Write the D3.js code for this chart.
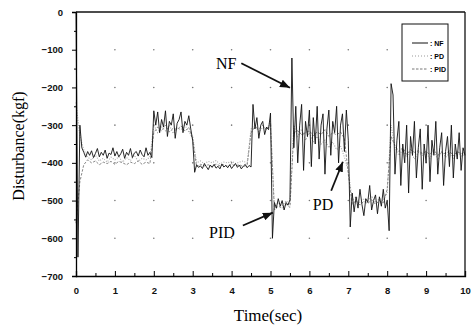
<!DOCTYPE html>
<html>
<head>
<meta charset="utf-8">
<script src="https://cdn.jsdelivr.net/npm/d3@7/dist/d3.min.js"></script>
<style>
  body { margin: 0; background: #fff; }
  .tick text { font-family: 'Liberation Sans', Arial, sans-serif; font-weight: bold; font-size: 9.5px; fill: #111; }
</style>
</head>
<body>
<svg id="chart" width="474" height="326"></svg>
<script>
// sample steps (sec)
const nfStep = 0.05;
const pdStep = 0.1;

// NF : one row = 0.5 sec
const nfValues = [
  0, -650, -300, -360, -372, -385, -370, -380, -368, -386,
  -375, -362, -384, -372, -380, -366, -388, -374, -378, -360,
  -382, -370, -384, -376, -364, -388, -372, -380, -362, -386,
  -374, -370, -382, -366, -378, -384, -360, -380, -372, -386,
  -262, -300, -265, -320, -285, -305, -262, -330, -290, -300,
  -270, -335, -295, -285, -265, -320, -290, -300, -275, -310,
  -340, -425, -405, -412, -408, -415, -402, -410, -418, -406,
  -412, -404, -414, -409, -416, -403, -411, -407, -413, -405,
  -415, -408, -402, -412, -406, -416, -409, -404, -413, -407,
  -411, -245, -310, -280, -335, -300, -290, -325, -305, -312,
  -268, -600, -505, -520, -495, -515, -500, -525, -505, -512,
  -498, -122, -360, -250, -400, -300, -245, -420, -290, -330,
  -260, -410, -280, -350, -250, -390, -300, -270, -430, -310,
  -260, -380, -290, -320, -250, -400, -300, -270, -370, -260,
  -340, -570, -480, -530, -490, -520, -470, -510, -540, -495,
  -505, -460, -525, -500, -485, -535, -490, -515, -470, -520,
  -500, -580, -190, -220, -430, -340, -290, -460, -350, -400,
  -300, -480, -330, -380, -290, -440, -360, -310, -470, -350,
  -400, -300, -450, -340, -380, -290, -430, -360, -320, -460,
  -370, -330, -410, -300, -440, -350, -390, -320, -420, -360,
  -380
];

// PD : one row = 1 sec
const pdValues = [
  -240, -330, -365, -385, -392, -380, -395, -388, -398, -385,
  -392, -384, -398, -386, -394, -380, -396, -388, -392, -385,
  -300, -320, -305, -315, -300, -322, -308, -312, -300, -318,
  -330, -400, -395, -402, -396, -400, -394, -403, -398, -400,
  -396, -402, -398, -395, -401, -310, -300, -318, -306, -312,
  -290, -520, -505, -515, -500, -510, -300, -330, -310, -340,
  -320, -345, -330, -350, -340, -360, -345, -365, -355, -385,
  -420, -500, -490, -505, -495, -500, -488, -505, -495, -500,
  -480, -300, -360, -380, -365, -385, -370, -390, -372, -380,
  -375, -388, -365, -392, -370, -385, -375, -390, -368, -382,
  -378
];

// PID : one row = 1 sec
const pidValues = [
  -560, -450, -405, -392, -400, -395, -405, -398, -402, -396,
  -404, -396, -400, -405, -398, -402, -395, -404, -398, -402,
  -320, -305, -315, -300, -318, -308, -312, -302, -316, -306,
  -340, -410, -404, -408, -405, -410, -403, -408, -405, -409,
  -404, -408, -405, -410, -406, -320, -305, -310, -300, -312,
  -300, -525, -515, -520, -510, -518, -320, -315, -325, -320,
  -315, -328, -318, -325, -312, -330, -320, -326, -318, -335,
  -430, -510, -500, -512, -502, -508, -498, -510, -500, -506,
  -470, -330, -355, -370, -360, -378, -365, -372, -368, -375,
  -370, -378, -365, -380, -372, -376, -368, -382, -370, -376,
  -372
];

const xTicks = d3.range(0, 11);
const yTicks = [0, -100, -200, -300, -400, -500, -600, -700];
const legendLabels = [': NF', ': PD', ': PID'];

// annotations in data units: text at [t, v], arrow from tail to tip
const noteLabels = ['NF', 'PID', 'PD'];
const noteText = [[3.86, -135], [3.75, -585], [6.35, -510]];
const noteTail = [[4.25, -136], [4.29, -566], [6.56, -474]];
const noteTip = [[5.50, -201], [5.06, -532], [6.86, -397]];

const margin = { top: 12, right: 9, bottom: 50, left: 76 },
  width = 474 - margin.left - margin.right,
  height = 326 - margin.top - margin.bottom;

const svg = d3.select('#chart');
const g = svg.append('g').attr('transform', 'translate(' + margin.left + ',' + margin.top + ')');

const x = d3.scaleLinear().domain([0, 10]).range([0, width]);
const y = d3.scaleLinear().domain([-700, 0]).range([height, 0]);

// faint dots at grid crossings
const crossings = [];
xTicks.slice(1, -1).forEach(function (t) {
  yTicks.slice(1, -1).forEach(function (v) { crossings.push([t, v]); });
});
g.selectAll('.gdot')
  .data(crossings)
  .enter()
  .append('circle')
  .attr('cx', d => x(d[0]))
  .attr('cy', d => y(d[1]))
  .attr('r', 0.8)
  .attr('fill', '#777');

// series
function series(values, step) {
  return d3.line()
    .x((d, i) => x(i * step))
    .y(d => y(d))(values);
}

g.append('path')
  .attr('d', series(pdValues, pdStep))
  .attr('fill', 'none')
  .attr('stroke', '#aaa')
  .attr('stroke-width', 1.1)
  .attr('stroke-dasharray', '1,1.5');

g.append('path')
  .attr('d', series(pidValues, pdStep))
  .attr('fill', 'none')
  .attr('stroke', '#888')
  .attr('stroke-width', 1)
  .attr('stroke-dasharray', '2.5,1.5');

g.append('path')
  .attr('d', series(nfValues, nfStep))
  .attr('fill', 'none')
  .attr('stroke', '#111')
  .attr('stroke-width', 0.9);

// axes
const yAxis = g.append('g')
  .call(d3.axisLeft(y).tickValues(yTicks).tickFormat(d3.format('d')).tickSize(4).tickPadding(9));
yAxis.select('.domain').attr('stroke-width', 1.3);

const yMinor = g.append('g')
  .call(d3.axisLeft(y).tickValues(d3.range(-650, 0, 100)).tickSize(2).tickFormat(''));
yMinor.select('.domain').remove();

const xAxis = g.append('g')
  .attr('transform', 'translate(0,' + height + ')')
  .call(d3.axisBottom(x).tickValues(xTicks).tickSize(-5).tickPadding(11));
xAxis.select('.domain').attr('stroke-width', 1.3);

const xMinor = g.append('g')
  .attr('transform', 'translate(0,' + height + ')')
  .call(d3.axisBottom(x).tickValues(d3.range(0.5, 10, 1)).tickSize(-3).tickFormat(''));
xMinor.select('.domain').remove();

// frame top and right
g.append('line').attr('x1', 0).attr('x2', width).attr('y1', 0).attr('y2', 0)
  .attr('stroke', '#111').attr('stroke-width', 1.3);
g.append('line').attr('x1', width).attr('x2', width).attr('y1', 0).attr('y2', height)
  .attr('stroke', '#111').attr('stroke-width', 1.3);

// axis titles
svg.append('text')
  .attr('x', 268).attr('y', 321)
  .attr('text-anchor', 'middle')
  .style('font-family', "'Liberation Serif', 'Times New Roman', serif")
  .style('font-size', '17px')
  .text('Time(sec)');

svg.append('text')
  .attr('transform', 'translate(24,' + 146 + ') rotate(-90)')
  .attr('text-anchor', 'middle')
  .style('font-family', "'Liberation Serif', 'Times New Roman', serif")
  .style('font-size', '16px')
  .text('Disturbance(kgf)');

// legend
const legend = svg.append('g').attr('transform', 'translate(402,24)');
legend.append('rect')
  .attr('width', 46).attr('height', 57)
  .attr('fill', '#fff').attr('stroke', '#111').attr('stroke-width', 1);
const dashes = [null, '1,2', '2.5,1.5'];
const strokes = ['#111', '#999', '#777'];
legendLabels.forEach(function (lab, i) {
  const ly = 19 + i * 13;
  legend.append('line')
    .attr('x1', 10).attr('x2', 26).attr('y1', ly).attr('y2', ly)
    .attr('stroke', strokes[i]).attr('stroke-width', 1)
    .attr('stroke-dasharray', dashes[i]);
  legend.append('text')
    .attr('x', 28).attr('y', ly + 2.5)
    .style('font-family', "'Liberation Sans', Arial, sans-serif")
    .style('font-weight', 'bold')
    .style('font-size', '7px')
    .text(lab);
});

// annotations
svg.append('defs').append('marker')
  .attr('id', 'head')
  .attr('viewBox', '0 0 10 8')
  .attr('refX', 10).attr('refY', 4)
  .attr('markerWidth', 10).attr('markerHeight', 8)
  .attr('markerUnits', 'userSpaceOnUse')
  .attr('orient', 'auto')
  .append('path').attr('d', 'M0,0L10,4L0,8Z').attr('fill', '#111');

noteLabels.forEach(function (lab, i) {
  g.append('line')
    .attr('x1', x(noteTail[i][0])).attr('y1', y(noteTail[i][1]))
    .attr('x2', x(noteTip[i][0])).attr('y2', y(noteTip[i][1]))
    .attr('stroke', '#111').attr('stroke-width', 1.8)
    .attr('marker-end', 'url(#head)');
  g.append('text')
    .attr('x', x(noteText[i][0])).attr('y', y(noteText[i][1]))
    .attr('text-anchor', 'middle')
    .attr('dy', '0.35em')
    .style('font-family', "'Liberation Serif', 'Times New Roman', serif")
    .style('font-size', '16px')
    .text(lab);
});
</script>
</body>
</html>
